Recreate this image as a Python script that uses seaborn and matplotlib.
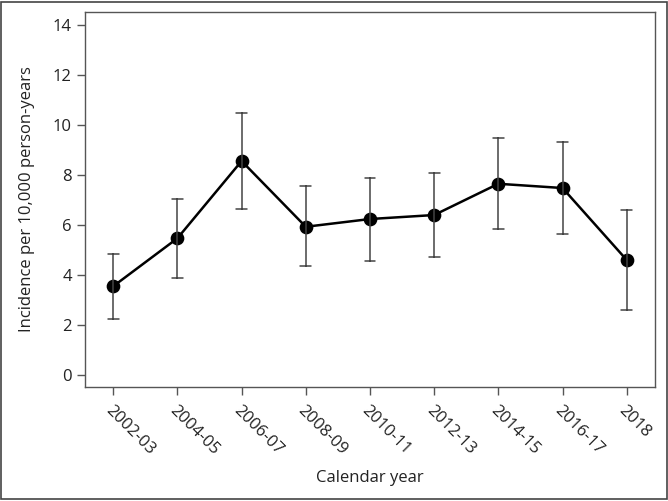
import numpy as np
import pandas as pd
import matplotlib
matplotlib.use("Agg")
import matplotlib.pyplot as plt
import seaborn as sns
from matplotlib.patches import Rectangle

# values
periods = ["2002-03", "2004-05", "2006-07", "2008-09", "2010-11",
           "2012-13", "2014-15", "2016-17", "2018"]
incidence = [3.55, 5.47, 8.56, 5.93, 6.24, 6.40, 7.65, 7.48, 4.60]
ci_low = [2.23, 3.89, 6.64, 4.36, 4.56, 4.73, 5.83, 5.65, 2.60]
ci_high = [4.85, 7.05, 10.47, 7.56, 7.89, 8.08, 9.48, 9.31, 6.61]

# long form: low / estimate / high per period, median gives the point, min-max the bar
df = pd.DataFrame({
    "period": periods * 3,
    "value": ci_low + incidence + ci_high,
})

sns.set_theme(style="ticks")
plt.rcParams["font.family"] = ["Open Sans", "DejaVu Sans"]
txt = "#222222"

fig = plt.figure(figsize=(6.68, 5.01), dpi=100)
ax = fig.add_axes([0.1272, 0.2275, 0.8533, 0.7485])

sns.pointplot(data=df, x="period", y="value", order=periods,
              estimator=np.median, errorbar=lambda v: (v.min(), v.max()),
              color="black", markersize=8.5, linewidth=1.8, capsize=0.17,
              err_kws={"color": "#444444", "linewidth": 1.1}, ax=ax)

ax.set_ylim(-0.48, 14.52)
ax.set_xlim(-0.44, 8.44)
ax.set_yticks([0, 2, 4, 6, 8, 10, 12, 14])

for s in ax.spines.values():
    s.set_visible(True)
    s.set_color("#555555")
    s.set_linewidth(1.0)

ax.tick_params(axis="both", colors="#555555", labelcolor=txt, labelsize=12,
               length=6, width=1.0, direction="out")
plt.setp(ax.get_xticklabels(), rotation=-45, ha="left", rotation_mode="anchor")
ax.tick_params(axis="x", pad=5)

ax.set_xlabel("Calendar year", color=txt, fontsize=12, labelpad=9)
ax.set_ylabel("Incidence per 10,000 person-years", color=txt, fontsize=12, labelpad=13)

# outer frame around the whole figure
fig.patches.append(Rectangle((0.002, 0.003), 0.996, 0.994, transform=fig.transFigure,
                             fill=False, edgecolor="#444444", linewidth=1.2))

fig.savefig("out.png", dpi=100)
